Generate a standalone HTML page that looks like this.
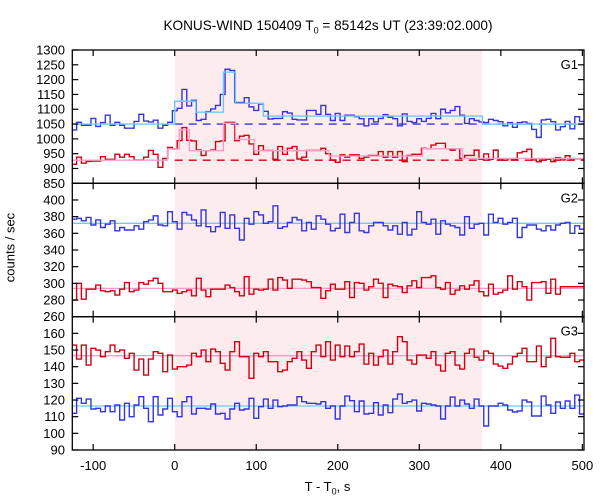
<!DOCTYPE html>
<html><head><meta charset="utf-8"><style>
html,body{margin:0;padding:0;background:#fff;}
svg{display:block;font-family:"Liberation Sans",sans-serif;}
</style></head><body>
<svg id="chart" width="600" height="500" viewBox="0 0 600 500"></svg>
<script>
// ---- data ----
const binStart = -126.2;
const binWidth = 5.875;
const g1Blue = [1030,1056,1046,1046,1069,1042,1055,1080,1046,1056,1046,1036,1036,1059,1083,1060,1057,1063,1036,1046,1056,1095,1103,1167,1111,1130,1062,1066,1092,1101,1113,1150,1235,1231,1123,1123,1139,1108,1096,1118,1093,1067,1069,1069,1092,1087,1066,1064,1064,1096,1096,1083,1113,1083,1062,1086,1062,1080,1080,1075,1068,1044,1068,1057,1069,1082,1073,1068,1044,1084,1059,1055,1068,1059,1069,1086,1068,1100,1088,1096,1109,1080,1052,1068,1062,1057,1055,1066,1062,1058,1044,1055,1039,1055,1057,1052,1032,1005,1064,1066,1058,1030,1041,1059,1034,1075,1059];
const g1Red = [914,938,918,924,925,925,940,931,931,948,938,948,940,929,929,938,961,948,904,934,971,966,994,1038,995,993,962,944,960,962,991,993,1056,1056,994,1009,1012,983,948,977,961,961,931,974,948,968,974,932,938,961,961,961,968,950,929,921,946,938,946,946,934,938,944,944,957,938,957,938,957,923,944,948,948,968,967,979,985,985,967,962,967,934,944,944,962,931,949,931,962,933,928,933,931,953,957,965,929,923,929,931,923,937,929,943,933,933,933];
const g2Blue = [377,378,375,379,370,376,367,371,375,363,367,364,364,369,365,374,376,381,370,369,386,374,365,385,382,376,369,388,368,362,368,385,366,382,366,352,378,371,386,382,372,374,393,366,368,373,379,376,363,373,365,381,377,371,363,366,383,361,373,384,363,361,369,373,373,369,364,369,359,373,358,365,386,373,371,377,359,375,371,369,367,358,380,366,371,372,358,383,373,378,371,373,378,355,367,370,370,365,363,369,364,370,372,373,360,369,365];
const g2Red = [280,300,281,293,293,298,291,290,291,286,293,301,290,292,301,299,303,306,300,290,290,292,288,290,292,285,306,292,284,293,293,293,298,295,290,285,308,287,293,292,293,305,292,307,304,294,305,305,304,302,295,295,282,291,299,293,293,302,283,301,300,292,296,305,300,283,299,297,296,289,297,303,295,307,307,309,295,293,301,287,292,297,293,298,303,290,285,299,287,289,292,309,293,302,296,280,301,301,302,288,305,287,296,296,296,296,296];
const g3Red = [153,144.6,153,141,151,150,146,149,153,149,150,145,148,138,144.6,135,144.6,149,148,137,147,138.6,140,140,141,148,146,150,143,150.6,149,142,138,149,155,146,146,133,148,146,149,143,143,137,138,143,145,149,144,139,149,153,146,155,144,153,146,152.4,146,149,153.6,141.6,148,141,146,150,141.6,149,158,155,144,141.6,147,147,145,149,141,137.4,148,149,141,138.6,148,150.6,145.6,144,149.4,148,141.6,140.4,139,141.6,146,148,151,143,143,152.4,140,145.6,157,146,145.6,145.6,148,143,144];
const g3Blue = [112,121,118,120.6,114.6,115,113,116.4,113,117,108,118,110,117,122,115,107,122,111,114.6,121,113,110,119,122,111.6,115,115,114.6,117.6,111.6,112,108.6,114.6,118,114,114.6,121,109,116,120.6,115,120,116,116.4,117,117,122,119,118,118,117.6,119,115,116.4,108.6,116.4,122.4,119.6,113,119.4,111.6,112,118.4,111,117,112.4,120.6,123.6,118,119,120,113.4,118,117.6,117,116.4,108.6,116.4,121.8,116.4,120,117.6,115,120.6,116.4,104.4,116.4,116.4,118,117,114,112.8,113.4,120,118.8,110.4,110.4,122.4,117,112,118.8,115,119.4,115,123,111.6];
const g1FitCyanT = [-126,0,26,59.7,74.4,108.7,377.4,503];
const g1FitCyanV = [1050,1127,1090,1225,1120,1077,1050];
const g1FitPinkT = [-126,-9,5.7,18,59.7,74.4,97.7,189.3,303.8,353,503];
const g1FitPinkV = [928,966,1030,960,1053,998,960,942,967,934];
const g2FitBlue = 372, g2FitRed = 294, g3FitBlue = 116.4, g3FitRed = 146.6;
const g1BgBlue = 1050, g1BgRed = 928;
const xTicks = [-100,0,100,200,300,400,500];
const g1Ticks = [850,900,950,1000,1050,1100,1150,1200,1250,1300];
const g2Ticks = [260,280,300,320,340,360,380,400];
const g3Ticks = [90,100,110,120,130,140,150,160];
const intervalStart = 0, intervalEnd = 377;

// ---- layout ----
const L = 72.3, R = 584, XMIN = -125.6, XMAX = 502;
const x = t => L + (t - XMIN) / (XMAX - XMIN) * (R - L);
const panels = [
  {top:50, bot:183.3, min:850, max:1300, ticks:g1Ticks, label:'G1'},
  {top:183.3, bot:316.7, min:260, max:420, ticks:g2Ticks, label:'G2'},
  {top:316.7, bot:450, min:90, max:170, ticks:g3Ticks, label:'G3'}
];
const yf = p => v => p.bot - (v - p.min) / (p.max - p.min) * (p.bot - p.top);
const NS = 'http://www.w3.org/2000/svg';
const svg = document.getElementById('chart');
function mk(tag, attrs, parent) {
  const e = document.createElementNS(NS, tag);
  for (const k in attrs) e.setAttribute(k, attrs[k]);
  (parent || svg).appendChild(e);
  return e;
}
const defs = mk('defs', {});
const cp = mk('clipPath', {id:'clip'}, defs);
mk('rect', {x:L, y:50, width:R-L, height:400}, cp);

const shade = mk('rect', {x:x(intervalStart), y:50, width:x(intervalEnd)-x(intervalStart), height:400, fill:'#fdeced'});



function stepPath(vals, y) {
  let d = '';
  vals.forEach((v, i) => {
    const x0 = x(binStart + i * binWidth), x1 = x(binStart + (i + 1) * binWidth);
    d += (i === 0 ? 'M' + x0 + ' ' + y(v) : 'V' + y(v)) + 'H' + x1;
  });
  return d;
}
function fitPath(ts, vs, y) {
  let d = '';
  vs.forEach((v, i) => {
    d += (i === 0 ? 'M' + x(ts[0]) + ' ' + y(v) : 'V' + y(v)) + 'H' + x(ts[i + 1]);
  });
  return d;
}
const gData = mk('g', {'clip-path':'url(#clip)'});



function series(d, color, w, name, dash) {
  const p = mk('path', {d:d, fill:'none', stroke:color, 'stroke-width':w}, gData);
  if (dash) p.setAttribute('stroke-dasharray', dash);
  
  
}
const y1 = yf(panels[0]), y2 = yf(panels[1]), y3 = yf(panels[2]);
const BLUE = '#3535e0', RED = '#d10012', CYAN = '#6ccbf6', PINK = '#f59ccb';
series(stepPath(g1Blue, y1), BLUE, 1.4, 'g1-blue-counts');
series(stepPath(g1Red, y1), RED, 1.4, 'g1-red-counts');
series('M' + x(0) + ' ' + y1(g1BgBlue) + 'H' + R, BLUE, 1.3, 'g1-blue-background', '8,6');
series('M' + x(0) + ' ' + y1(g1BgRed) + 'H' + R, RED, 1.3, 'g1-red-background', '8,6');
series(fitPath(g1FitCyanT, g1FitCyanV, y1), CYAN, 1.4, 'g1-blue-fit');
series(fitPath(g1FitPinkT, g1FitPinkV, y1), PINK, 1.4, 'g1-red-fit');
series('M' + L + ' ' + y2(g2FitBlue) + 'H' + R, CYAN, 1.3, 'g2-blue-fit');
series('M' + L + ' ' + y2(g2FitRed) + 'H' + R, PINK, 1.3, 'g2-red-fit');
series(stepPath(g2Blue, y2), BLUE, 1.4, 'g2-blue-counts');
series(stepPath(g2Red, y2), RED, 1.4, 'g2-red-counts');
series('M' + L + ' ' + y3(g3FitBlue) + 'H' + R, CYAN, 1.3, 'g3-blue-fit');
series('M' + L + ' ' + y3(g3FitRed) + 'H' + R, PINK, 1.3, 'g3-red-fit');
series(stepPath(g3Red, y3), RED, 1.4, 'g3-red-counts');
series(stepPath(g3Blue, y3), BLUE, 1.4, 'g3-blue-counts');

panels.forEach((p, pi) => {
  const y = yf(p);
  const frame = mk('rect', {x:L, y:p.top, width:R-L, height:p.bot-p.top, fill:'none', stroke:'#000', 'stroke-width':1.3});
  
  
  xTicks.forEach(t => {
    mk('line', {x1:x(t), x2:x(t), y1:p.top, y2:p.top+6, stroke:'#000', 'stroke-width':1.2});
    mk('line', {x1:x(t), x2:x(t), y1:p.bot, y2:p.bot-6, stroke:'#000', 'stroke-width':1.2});
  });
  p.ticks.forEach(v => {
    const yy = y(v);
    mk('line', {x1:L, x2:L+6, y1:yy, y2:yy, stroke:'#000', 'stroke-width':1.2});
    mk('line', {x1:R, x2:R-6, y1:yy, y2:yy, stroke:'#000', 'stroke-width':1.2});
    const tl = mk('text', {x:65, y:yy+4.5, 'text-anchor':'end', 'font-size':13, fill:'#000'});
    tl.textContent = v;
    
    
  });
  const pl = mk('text', {x:578, y:p.top+19, 'text-anchor':'end', 'font-size':13, fill:'#000'});
  pl.textContent = p.label;
  
  
});
xTicks.forEach(t => {
  const tl = mk('text', {x:x(t), y:470, 'text-anchor':'middle', 'font-size':13, fill:'#000'});
  tl.textContent = t;
  
  
});
</script>
<div style="position:absolute;left:0;top:18px;width:656px;text-align:center;font:13.6px 'Liberation Sans',sans-serif;">KONUS-WIND 150409 T<sub style="font-size:9px">0</sub> = 85142s UT (23:39:02.000)</div>
<div style="position:absolute;left:0;top:479px;width:655px;text-align:center;font:13px 'Liberation Sans',sans-serif;">T - T<sub style="font-size:9px">0</sub>, s</div>
<div style="position:absolute;left:-30px;top:240px;width:80px;text-align:center;transform:rotate(-90deg);font:13px 'Liberation Sans',sans-serif;">counts / sec</div>
</body></html>
